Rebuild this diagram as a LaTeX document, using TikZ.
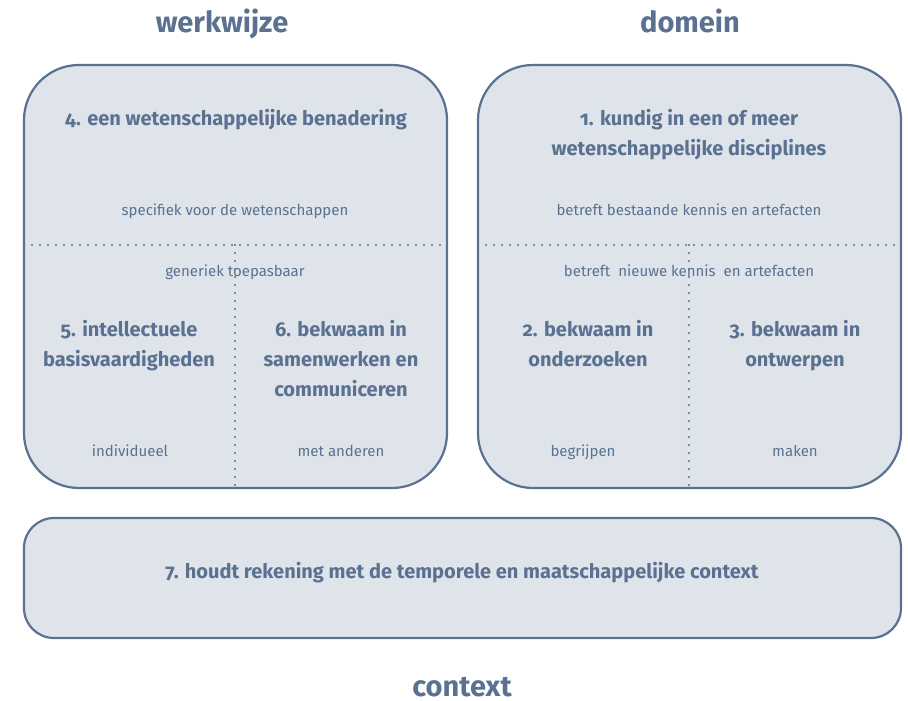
\documentclass[tikz,border=0pt]{standalone}
\usepackage{fontspec}
\setmainfont{Fira Sans}[Numbers=OldStyle]
\definecolor{ink}{HTML}{5A7191}
\definecolor{pane}{HTML}{DFE4EA}
\begin{document}
\begin{tikzpicture}[x=1pt,y=-1pt,
  box/.style={draw=ink,fill=pane,line width=2.2pt,inner sep=0pt},
  title/.style={text=ink,font=\fontsize{29}{32}\selectfont\bfseries,anchor=base,inner sep=0pt},
  big/.style={text=ink,font=\fontsize{20}{30}\selectfont\bfseries,align=center,anchor=base,inner sep=0pt},
  small/.style={text=ink,font=\fontsize{15}{18}\selectfont,align=center,anchor=base,inner sep=0pt},
  dots/.style={draw=ink,line width=2.3pt,line cap=round,dash pattern=on 0pt off 8pt}]
\useasboundingbox (0,0) rectangle (908,701);
% boxes
\node[box,rounded corners=55pt,minimum width=423pt,minimum height=423pt] (L) at (235.5,276.5) {};
\node[box,rounded corners=55pt,minimum width=423pt,minimum height=423pt] (R) at (689.5,276.5) {};
\node[box,rounded corners=30pt,minimum width=877pt,minimum height=120pt] (B) at (462.5,578) {};
% dotted lines
\coordinate (Lh1) at (24,245); \coordinate (Lh2) at (447,245);
\coordinate (Lv1) at (235,245); \coordinate (Lv2) at (235,486);
\coordinate (Rh1) at (478,245); \coordinate (Rh2) at (901,245);
\coordinate (Rv1) at (689,245); \coordinate (Rv2) at (689,486);
\draw[dots] (Lh1) -- (Lh2);
\draw[dots] (Lv1) -- (Lv2);
\draw[dots] (Rh1) -- (Rh2);
\draw[dots] (Rv1) -- (Rv2);
% titles
\node[title] (t1) at (222,33) {werkwijze};
\node[title] (t2) at (690,33) {domein};
\node[title] (t3) at (462,696) {context};
% left box texts
\node[big] (n4) at (236,125) {4. een wetenschappelijke benadering};
\node[small] (s1) at (235,215) {specifiek voor de wetenschappen};
\node[small] (s2) at (235,276.5) {generiek toepasbaar};
\node[big] (n5) at (129,366.5) {5. intellectuele\\basisvaardigheden};
\node[big] (n6) at (341,396.5) {6. bekwaam in\\samenwerken en\\communiceren};
\node[small] (s3) at (130,456.5) {individueel};
\node[small] (s4) at (341,456.5) {met anderen};
% right box texts
\node[big] (n1) at (689,155) {1. kundig in een of meer\\wetenschappelijke disciplines};
\node[small] (s5) at (689,215) {betreft bestaande kennis en artefacten};
\node[small] (s6) at (689,276.5) {betreft\ \ nieuwe kennis\ \ en artefacten};
\node[big] (n2) at (588,366.5) {2. bekwaam in\\onderzoeken};
\node[big] (n3) at (795,366.5) {3. bekwaam in\\ontwerpen};
\node[small] (s7) at (583,456.5) {begrijpen};
\node[small] (s8) at (795,456.5) {maken};
% bottom
\node[big] (n7) at (462,578) {7. houdt rekening met de temporele en maatschappelijke context};
\end{tikzpicture}
\end{document}
